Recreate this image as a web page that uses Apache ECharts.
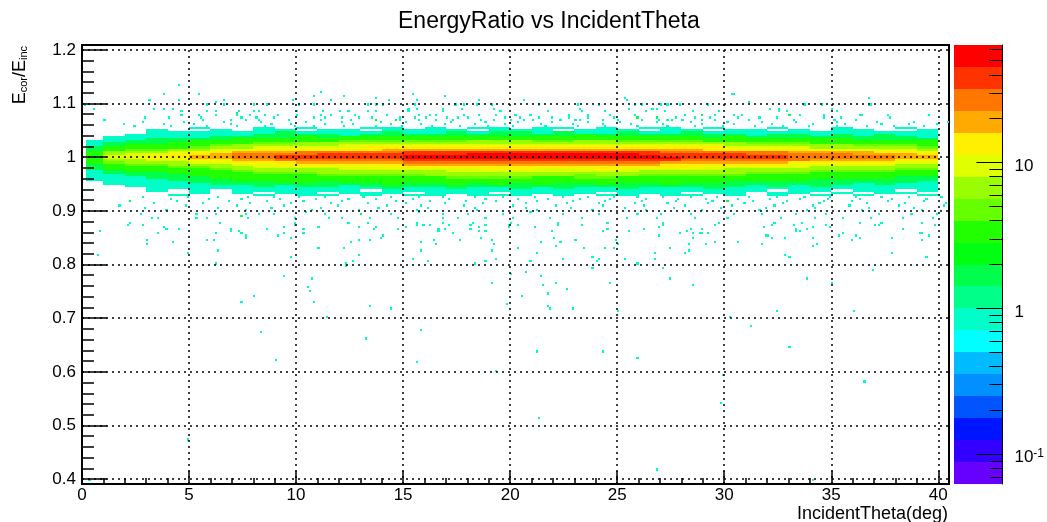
<!DOCTYPE html>
<html><head><meta charset="utf-8">
<style>html,body{margin:0;padding:0;background:#fff}#c{width:1047px;height:522px}</style>
<script src="https://cdn.jsdelivr.net/npm/echarts@6/dist/echarts.min.js"></script>
</head><body><div id="c"></div>
<script>
// Tick values
const xMajorTicks=[0,5,10,15,20,25,30,35,40];
const xMinorTicks=[1,2,3,4,6,7,8,9,11,12,13,14,16,17,18,19,21,22,23,24,26,27,28,29,31,32,33,34,36,37,38,39];
const yMajorTicks=[0.4,0.5,0.6,0.7,0.8,0.9,1,1.1,1.2];
const yMinorTicks=[0.42,0.44,0.46,0.48,0.52,0.54,0.56,0.58,0.62,0.64,0.66,0.68,0.72,0.74,0.76,0.78,0.82,0.84,0.86,0.88,0.92,0.94,0.96,0.98,1.02,1.04,1.06,1.08,1.12,1.14,1.16,1.18];
const zMajorTicks=[0.1,1,10];
const zMinorTicks=[0.07,0.08,0.09,0.2,0.3,0.4,0.5,0.6,0.7,0.8,0.9,2,3,4,5,6,7,8,9,20,30,40,50,60];
const palette=['#6600ff','#3300ff','#0015ff','#0055ff','#0090ff','#00bbff','#00ffff','#00ffc8','#00ff88','#00ff4c','#00ff11','#22ff00','#66ff00','#99ff00','#e0ff00','#fff000','#ffaa00','#ff7700','#ff3300','#ff0000'];
const zMin=0.0625, zMax=64;

// Dense core of the band: counts estimated by eye per colour, one column per degree of theta (0..39),
// one row per ratio bin, from 1.052 downwards in steps of 0.004. This is coarser than the source binning.
const coreTopRatio=1.052;
const coreRows=[
[0,0,0,0,0,1,0,0,1,0,1,0,0,1,1,0,1,0,1,1,0,1,1,0,1,0,1,1,0,1,0,0,1,0,0,1,0,0,1,0],
[0,0,0,1,0,0,1,0,1,1,0,1,1,0,1,1,1,1,0,1,1,1,0,1,1,1,0,1,1,0,1,1,0,1,0,1,1,0,0,1],
[0,0,0,1,1,1,1,1,1,2,1,1,1,1,2,1,1,2,1,2,2,1,2,1,1,2,1,1,2,1,1,1,1,1,1,1,1,1,1,1],
[0,0,1,1,1,1,1,1,2,2,2,2,1,2,2,2,2,2,2,2,2,2,2,3,2,2,2,2,2,2,2,1,2,2,1,2,1,2,1,1],
[0,1,1,1,1,1,2,2,2,2,3,2,3,3,3,3,3,3,3,3,3,3,3,3,3,3,3,3,3,2,3,2,2,2,2,2,2,2,2,1],
[0,1,1,2,2,2,2,3,3,3,3,3,3,4,4,4,4,4,4,4,4,4,4,4,4,4,4,4,3,3,3,3,3,3,3,3,2,2,2,2],
[1,1,2,2,2,3,3,3,4,4,4,4,5,5,5,5,5,5,6,6,6,5,5,6,6,5,5,5,5,4,4,4,4,4,3,3,3,3,3,3],
[1,2,2,2,3,3,4,4,5,5,6,6,6,6,7,7,7,7,8,8,8,8,7,7,8,7,7,7,6,6,6,5,5,5,4,4,4,4,3,3],
[1,2,3,3,3,4,5,6,6,7,8,8,9,9,9,10,10,11,11,11,11,11,10,11,11,10,10,10,9,9,8,8,7,6,6,6,5,5,5,4],
[2,3,3,4,4,5,7,8,9,9,10,11,11,12,13,14,14,14,15,15,15,15,14,14,15,14,14,13,12,12,11,10,10,9,8,8,8,7,6,5],
[2,4,5,5,6,7,9,11,12,13,14,15,16,16,17,19,19,19,21,21,22,22,21,20,22,20,19,18,17,16,15,14,14,13,12,11,11,10,9,8],
[3,6,7,8,10,12,15,18,20,22,25,27,28,29,31,34,34,35,37,40,40,39,38,38,40,37,34,32,30,30,27,26,24,22,20,18,18,16,14,13],
[4,8,9,11,12,15,19,23,26,29,32,34,35,36,39,44,44,45,47,50,50,49,47,47,49,46,44,41,38,37,34,32,30,28,25,23,22,20,18,16],
[4,9,11,13,14,17,21,27,30,33,35,38,38,40,43,47,48,48,52,55,55,54,52,52,54,51,48,45,42,41,38,36,34,31,28,26,25,23,20,18],
[4,10,12,14,15,18,22,27,30,34,36,38,39,41,43,48,48,49,52,56,56,55,52,52,55,52,48,46,43,42,40,37,35,32,29,26,26,24,21,19],
[3,7,8,10,11,13,16,19,21,24,26,27,28,29,31,34,35,35,37,39,40,39,37,37,39,37,35,33,30,30,28,26,24,23,21,19,18,17,15,13],
[3,5,6,7,8,9,11,14,15,16,18,19,19,20,21,23,24,24,25,27,27,26,25,25,27,25,24,22,21,21,19,18,17,15,14,13,13,12,10,9],
[2,4,5,5,6,7,8,10,11,12,13,13,14,14,15,17,17,17,18,19,19,19,18,18,19,18,17,16,15,15,14,13,12,11,10,9,9,9,8,7],
[2,3,4,4,5,5,6,8,9,9,10,11,11,11,12,13,13,13,14,15,15,15,14,14,15,14,13,12,12,11,11,10,9,9,8,8,7,7,6,6],
[2,3,3,3,4,4,5,6,7,8,8,8,9,9,10,10,10,11,11,12,12,11,11,11,12,11,10,10,9,9,8,8,8,7,7,6,6,6,5,5],
[1,2,3,3,3,4,4,5,6,6,7,7,7,7,8,8,8,9,9,9,9,9,9,9,9,9,8,8,7,7,7,7,6,6,5,5,5,5,4,4],
[1,2,2,2,3,3,4,4,5,5,5,6,6,6,6,7,7,7,7,7,7,7,7,7,7,7,7,6,6,6,6,5,5,5,4,4,4,4,4,3],
[1,1,2,2,2,3,3,4,4,4,4,5,5,5,5,5,6,6,6,6,6,6,6,5,6,6,5,5,5,5,5,4,4,4,4,3,3,3,3,3],
[1,1,1,2,2,2,3,3,3,3,4,4,4,4,4,4,4,5,5,5,5,4,4,5,5,4,4,4,4,4,4,3,3,3,3,3,3,3,2,2],
[1,1,1,1,2,2,2,3,3,3,3,3,3,3,3,4,3,4,4,4,4,4,4,4,4,4,3,3,3,3,3,3,3,3,2,2,2,2,2,2],
[0,1,1,1,1,2,2,2,2,3,3,2,3,3,3,3,3,3,3,3,3,3,3,3,3,3,3,3,3,3,2,2,2,2,2,2,2,2,2,1],
[0,1,1,1,1,1,2,2,2,2,2,2,2,2,3,2,2,3,2,3,2,3,2,2,3,2,2,3,2,2,2,2,2,2,2,2,1,2,1,1],
[0,0,1,1,1,1,1,1,2,1,2,2,1,2,2,2,2,2,2,2,2,2,2,2,2,2,2,2,2,2,2,1,2,1,2,1,1,1,1,1],
[0,0,0,1,1,1,1,1,1,1,1,1,1,1,2,1,1,2,1,1,2,1,2,1,1,2,1,1,1,2,1,1,1,1,1,1,1,1,1,1],
[0,0,0,1,0,1,0,1,1,1,1,1,1,0,1,1,1,1,1,1,1,1,1,1,1,1,1,1,1,1,1,1,0,1,1,0,1,1,0,1],
[0,0,0,0,0,1,0,1,0,1,1,0,1,1,1,0,1,1,1,0,1,1,1,1,0,1,1,1,0,1,1,0,1,1,0,1,0,1,1,0],
[0,0,0,0,1,0,0,0,1,0,1,1,0,1,0,1,1,0,1,1,1,0,1,0,1,1,0,1,1,0,1,0,1,0,1,0,1,0,0,1]
];

// Fringe of single-count cells. Individual positions here cannot be read exactly:
// they are hand estimates of the density seen in each ratio bin (theta in tenths of a degree).
const fringe1064=[28,47,66,83,104,121,139,151,172,188,203,219,236,251,268,284,301,317,333,352,371,388,404,418,437,452,469,488,511,534,561];
const fringe1060=[19,38,52,69,88,97,113,126,144,158,169,183,197,214,229,243,256,271,289,304,322,341,356,373,386,399,414,431,446,463,478,495,507,528,547,566,583];
const fringe1056=[24,41,58,72,85,99,108,122,137,149,163,176,189,201,216,231,244,259,273,286,299,314,327,339,352,366,379,393,408,421,434,449,461,476,489,503,518,533,551,569,588];
const fringe0924=[28,49,63,77,89,101,113,131,144,157,168,183,196,211,224,236,248,259,271,284,296,311,324,337,349,361,373,386,401,415,428,441,453,466,478,493,507,522,536,551,568,586];
const fringe0920=[41,59,74,92,109,124,137,154,171,188,203,217,232,246,263,278,291,306,321,335,348,363,378,394,407,423,438,451,464,483,498,513,529,544,561,579];
const fringe0916=[22,44,68,86,103,121,146,162,179,193,212,229,244,261,277,294,313,329,346,359,376,393,412,427,442,458,475,492,509,527,546,571,593];
const fringe0912=[33,56,78,97,116,133,151,169,187,207,226,241,258,273,292,309,327,344,366,384,403,419,437,456,473,489,506,524,543,564,584];
const fringe0908=[17,48,72,94,119,142,158,178,201,221,243,262,281,303,323,341,358,381,402,418,439,461,482,501,523,546,572,597];
const fringe0904=[29,63,88,111,138,161,183,207,228,253,276,298,319,342,367,388,411,434,452,478,497,521,548,577];
const fringe0900=[39,76,107,129,156,184,212,238,263,289,316,338,364,392,421,448,473,502,531,556,583];

// Cells in the sparse upper tail: [theta, ratio]
const upperTail=[[4.57,1.134],[3.8,1.119],[5.45,1.119],[11.19,1.12],[10.83,1.113],[15.45,1.119],[12.27,1.113],[16.95,1.113],[13.75,1.109],[30.36,1.119],[30.46,1.119],[36.77,1.109],[25.32,1.109],[25.45,1.105],[3.13,1.105],[4.57,1.105],[6.67,1.105],[9.84,1.105],[11.63,1.105],[14.34,1.104],[15.63,1.104],[18.5,1.105],[20.6,1.104],[31.14,1.102],[6.2,1.102],
[0.13,1.096],[5.89,1.096],[6.64,1.096],[8.01,1.096],[8.66,1.096],[10.13,1.096],[10.8,1.096],[13.33,1.096],[13.7,1.096],[14.08,1.096],[15.5,1.096],[17.44,1.096],[17.83,1.096],[18.4,1.096],[19.17,1.096],[21.32,1.096],[23.13,1.096],[24.19,1.096],[25.89,1.096],[26.1,1.096],[27,1.096],[27.39,1.096],[27.91,1.096],[29.2,1.096],[33.72,1.096],[34.5,1.096],[36.82,1.096],[36.7,1.096],
[0.57,1.091],[3.36,1.091],[3.8,1.091],[4.26,1.091],[15.25,1.091],[15.6,1.091],[16.8,1.091],[17.78,1.091],[19.25,1.091],[23.26,1.091],[25.53,1.091],[26.61,1.091],[26.8,1.091],[32.17,1.091],[32.5,1.091],[35.01,1.091],
[4.65,1.085],[5.89,1.085],[6.28,1.085],[7.36,1.085],[8.01,1.085],[8.27,1.085],[10.08,1.085],[11.24,1.085],[12.02,1.085],[12.4,1.085],[13.31,1.085],[13.7,1.085],[15.25,1.085],[16.8,1.085],[19.5,1.085],[21.71,1.085],[23.39,1.085],[24.42,1.085],[26.36,1.085],[27.2,1.085],[28.55,1.085],[29.7,1.085],[32.5,1.085],[32.95,1.085],[35.27,1.085],
[4.65,1.079],[5.43,1.079],[6.2,1.079],[7.24,1.079],[7.88,1.079],[8.53,1.079],[9.17,1.079],[10.03,1.079],[11.11,1.079],[11.63,1.079],[12.79,1.079],[14.2,1.079],[15.76,1.079],[16.28,1.079],[16.54,1.079],[17.83,1.079],[18.53,1.079],[19.38,1.079],[20.28,1.079],[20.93,1.079],[22.74,1.079],[23.64,1.079],[24.68,1.079],[25.84,1.079],[28.17,1.079],[29.59,1.079],[30.49,1.079],[30.88,1.079],[33.59,1.079],[34.63,1.079],[36.3,1.079],[36.43,1.079],[37.6,1.079],[39.53,1.079],
[2.97,1.073],[4,1.073],[5.56,1.073],[7.49,1.073],[8.14,1.073],[8.91,1.073],[10.85,1.073],[11.37,1.073],[12.14,1.073],[12.92,1.073],[13.57,1.073],[14.86,1.073],[15.5,1.073],[16.02,1.073],[17.05,1.073],[17.57,1.073],[18.09,1.073],[19.77,1.073],[20.41,1.073],[21.32,1.073],[21.96,1.073],[22.74,1.073],[23.64,1.073],[24.81,1.073],[27.78,1.073],[28.68,1.073],[29.33,1.073],[30.62,1.073],[31.65,1.073],[32.43,1.073],[34.63,1.073],[35.4,1.073],[37.73,1.073],
[1.03,1.068],[5.68,1.068],[6.98,1.068],[7.62,1.068],[8.27,1.068],[9.69,1.068],[11.11,1.068],[12.53,1.068],[14.86,1.068],[15.76,1.068],[16.54,1.068],[17.31,1.068],[18.6,1.068],[19.25,1.068],[20.03,1.068],[20.67,1.068],[21.06,1.068],[22.35,1.068],[23,1.068],[23.26,1.068],[24.3,1.068],[25.01,1.068],[26.1,1.068],[26.93,1.068],[27.39,1.068],[28.04,1.068],[28.94,1.068],[29.59,1.068],[31.14,1.068],[33.2,1.068],[35.14,1.068],[36.18,1.068]];

// Cells just under 0.9
const midTail=[[2.71,0.892],[5.3,0.892],[6.2,0.892],[7.62,0.892],[8.27,0.892],[8.91,0.892],[10.47,0.896],[11.37,0.892],[14.47,0.892],[15.76,0.896],[16.8,0.892],[18.09,0.892],[19.64,0.892],[20.93,0.896],[22.48,0.892],[24.16,0.892],[25.97,0.892],[27,0.892],[28.42,0.892],[30.49,0.892],[31.78,0.892],[33.33,0.892],[34.75,0.892],[37.21,0.892],[38.76,0.892],[39.92,0.892],
[3.23,0.885],[3.54,0.885],[5.3,0.885],[5.81,0.885],[7.75,0.885],[9.95,0.885],[11.5,0.885],[12.14,0.885],[13.44,0.885],[14.73,0.885],[16.8,0.885],[17.57,0.885],[18.86,0.885],[20.16,0.885],[21.83,0.885],[23.39,0.885],[25.45,0.885],[26.87,0.885],[28.68,0.885],[30.1,0.885],[32.69,0.885],[34.24,0.885],[35.53,0.885],[36.82,0.885],[38.37,0.885],[39.79,0.885],
[2.2,0.876],[6.46,0.879],[9.95,0.876],[12.4,0.879],[13.31,0.876],[15.63,0.876],[16.8,0.879],[18.22,0.876],[20.03,0.876],[22.22,0.876],[24.55,0.879],[27.13,0.876],[29.72,0.879],[32.3,0.876],[33.6,0.879],[36.3,0.879],[37.34,0.879],[39.28,0.879]];

// Cells in the lower tail
const lowerTail=[[0.88,0.862],[2.17,0.874],[2.87,0.874],[3.81,0.87],[3.95,0.866],[4.56,0.866],[3.53,0.858],[3.02,0.847],[3.02,0.838],[4.22,0.842],[0.7,0.819],[4.98,0.823],[5.81,0.847],[6.14,0.847],[6.23,0.858],[6.37,0.827],[6.23,0.802],[6.98,0.866],[6.98,0.862],[7.3,0.862],[7.49,0.858],[7.63,0.855],[7.63,0.851],[8.65,0.866],[9.4,0.87],[9.4,0.858],[9.12,0.855],[9.72,0.851],[9.91,0.874],[9.72,0.814],[10.33,0.866],[10.37,0.858],[11.07,0.87],[11.07,0.83],[12.23,0.83],[12.56,0.842],[12.98,0.87],[12.98,0.847],[13.4,0.847],[12.98,0.819],[12.65,0.806],[12.37,0.802],[12.37,0.799],[9.49,0.778],[10.74,0.775],[10.56,0.758],[10.65,0.75],[10.88,0.73],[8.05,0.743],[7.49,0.73],[13.4,0.722],[11.49,0.702],[8.37,0.674],[13.21,0.663],[9.07,0.622],[4.98,0.475],[0.37,0.398],
[13.64,0.866],[13.74,0.87],[14.77,0.866],[15.19,0.87],[13.93,0.851],[14.07,0.855],[15.65,0.874],[15.93,0.874],[16.26,0.874],[16.68,0.866],[16.68,0.862],[16.92,0.866],[17.1,0.874],[17.34,0.858],[18.13,0.874],[18.13,0.866],[18.55,0.87],[18.55,0.862],[18.88,0.874],[18.88,0.862],[18.6,0.851],[19.11,0.847],[19.21,0.838],[19.11,0.827],[17.62,0.847],[16.45,0.847],[16.59,0.838],[15.84,0.842],[15.84,0.827],[15.42,0.81],[16.17,0.806],[18.36,0.802],[18.88,0.806],[19.3,0.81],[19.95,0.874],[19.95,0.87],[20.37,0.874],[21.12,0.87],[21.96,0.862],[22.24,0.874],[23.32,0.874],[22.06,0.851],[21.4,0.842],[22.38,0.842],[22.15,0.834],[23.04,0.847],[23.41,0.83],[20.37,0.83],[21.21,0.823],[20.98,0.806],[22.48,0.81],[23.88,0.814],[24.16,0.81],[24.07,0.806],[23.88,0.795],[24.3,0.862],[24.58,0.866],[24.49,0.83],[24.81,0.83],[24.91,0.847],[25.09,0.838],[25.51,0.862],[26.26,0.866],[26.92,0.855],[26.73,0.823],[26.73,0.81],[25.33,0.81],[25.98,0.802],
[20.05,0.782],[20.79,0.786],[21.4,0.778],[21.54,0.761],[22.19,0.767],[22.62,0.754],[21.73,0.747],[20.56,0.743],[19.11,0.767],[24.67,0.767],[21.73,0.722],[21.87,0.719],[22.9,0.719],[19.86,0.726],[14.44,0.719],[25,0.715],[15.84,0.678],[15.65,0.618],[19.35,0.603],[21.21,0.639],[24.39,0.639],[25.98,0.625],[21.31,0.514],[26.82,0.419],
[26.95,0.87],[27.14,0.874],[27.94,0.858],[28.27,0.862],[28.41,0.866],[28.59,0.858],[28.59,0.851],[28.83,0.858],[28.92,0.858],[28.92,0.866],[29.25,0.858],[29.58,0.874],[27.42,0.83],[28.17,0.823],[28.36,0.827],[28.36,0.838],[29.11,0.838],[29.58,0.842],[30.61,0.842],[31.78,0.838],[31.88,0.87],[31.9,0.855],[32,0.855],[32.2,0.851],[32.2,0.874],[32.86,0.851],[33.23,0.874],[33.38,0.866],[33.38,0.862],[33.56,0.862],[33.89,0.866],[34.13,0.87],[34.13,0.851],[34.13,0.834],[34.31,0.838],[32.81,0.819],[33.05,0.814],[34.73,0.874],[34.92,0.87],[35.39,0.855],[35.58,0.858],[35.91,0.847],[36.19,0.855],[36.33,0.851],[37.08,0.874],[37.27,0.874],[38.34,0.866],[37.83,0.851],[37.83,0.823],[39.14,0.858],[39.24,0.858],[39.28,0.847],[39.52,0.855],[39.47,0.814],[39.8,0.874],
[27.14,0.795],[27.42,0.775],[28.5,0.761],[33.8,0.775],[36.94,0.789],[35.06,0.767],[32.48,0.715],[36,0.715],[30.28,0.702],[31.27,0.687],[33.05,0.646],[29.95,0.594],[36.56,0.583],[29.86,0.542],[34.13,0.398]];

// Fringe cells holding two counts (drawn green in the picture)
const greenCells=[[7.2,1.083],[13.7,1.068],[14.6,1.068],[33.07,1.078],[25.9,1.075],[26.87,1.073],[27.57,1.07],[28.94,1.078],[13.05,0.893],[7.49,0.89],[30.1,0.917],[2.2,0.917]];

const thetaBin=0.1, ratioBin=0.004;
const cells=[];
coreRows.forEach((row,i)=>{
  const r=coreTopRatio-i*ratioBin;
  row.forEach((v,j)=>{ if(v>0) cells.push([j===0?0.2:j,j+1,r,r+ratioBin,v]); });
});
function addFringe(list,r){ list.forEach(t=>cells.push([t/10,t/10+thetaBin,r,r+ratioBin,1])); }
addFringe(fringe1064,1.064);addFringe(fringe1060,1.060);addFringe(fringe1056,1.056);
addFringe(fringe0924,0.924);addFringe(fringe0920,0.920);addFringe(fringe0916,0.916);addFringe(fringe0912,0.912);addFringe(fringe0908,0.908);addFringe(fringe0904,0.904);addFringe(fringe0900,0.900);
function addPairs(list,v){ list.forEach(p=>{
  const t=Math.floor(p[0]*10+1e-6)/10, r=Math.floor(p[1]/ratioBin+1e-6)*ratioBin;
  cells.push([t,t+thetaBin,r,r+ratioBin,v]);
});}
addPairs(upperTail,1);addPairs(midTail,1);addPairs(lowerTail,1);addPairs(greenCells,2);

function colorOf(v){
  const x=Math.log(v/zMin)/Math.log(zMax/zMin)*palette.length;
  return palette[Math.max(0,Math.min(palette.length-1,Math.ceil(x-1e-9)-1))];
}
const barData=palette.map((c,i)=>[zMin*Math.pow(zMax/zMin,i/palette.length),zMin*Math.pow(zMax/zMin,(i+1)/palette.length),i]);

const FONT='"Liberation Sans",Arial,sans-serif';
const chart=echarts.init(document.getElementById('c'),null,{renderer:'canvas'});
const dotted={color:'#000',width:1.5,type:[2,4]};
chart.setOption({
  animation:false,
  backgroundColor:'#fff',
  textStyle:{fontFamily:FONT},
  title:{text:'EnergyRatio vs IncidentTheta',left:393,top:5,textStyle:{fontFamily:FONT,fontWeight:'normal',fontSize:23,color:'#000'}},
  grid:[
    {left:82,top:45,width:867,height:439,show:true,borderColor:'#000',borderWidth:2,backgroundColor:'#fff'},
    {left:954,top:45,width:49,height:439,show:false}
  ],
  xAxis:[
    {type:'value',gridIndex:0,min:0,max:40.5,position:'bottom',z:20,splitLine:{show:false},
     axisLine:{show:true,onZero:false,lineStyle:{color:'#000',width:2}},
     axisTick:{show:true,inside:true,length:13,customValues:xMajorTicks,lineStyle:{color:'#000',width:1.5}},
     axisLabel:{show:true,customValues:xMajorTicks,fontSize:17,color:'#000',margin:3,fontFamily:FONT,formatter:v=>String(v)}},
    {type:'value',gridIndex:0,min:0,max:40.5,position:'bottom',z:20,splitLine:{show:false},
     axisLine:{show:false,onZero:false},axisLabel:{show:false},
     axisTick:{show:true,inside:true,length:6,customValues:xMinorTicks,lineStyle:{color:'#000',width:1.5}}},
    {type:'value',gridIndex:1,min:0,max:1,show:false}
  ],
  yAxis:[
    {type:'value',gridIndex:0,min:0.391,max:1.209,position:'left',z:20,splitLine:{show:false},
     axisLine:{show:true,onZero:false,lineStyle:{color:'#000',width:2}},
     axisTick:{show:true,inside:true,length:25,customValues:yMajorTicks,lineStyle:{color:'#000',width:1.5}},
     axisLabel:{show:true,customValues:yMajorTicks,fontSize:17,color:'#000',margin:6,fontFamily:FONT,formatter:v=>String(v)}},
    {type:'value',gridIndex:0,min:0.391,max:1.209,position:'left',z:20,splitLine:{show:false},
     axisLine:{show:false,onZero:false},axisLabel:{show:false},
     axisTick:{show:true,inside:true,length:12,customValues:yMinorTicks,lineStyle:{color:'#000',width:1.5}}},
    {type:'log',gridIndex:1,min:zMin,max:zMax,position:'right',z:20,splitLine:{show:false},
     axisLine:{show:true,onZero:false,lineStyle:{color:'#000',width:1}},
     axisTick:{show:true,inside:true,length:26,customValues:zMajorTicks,lineStyle:{color:'#000',width:1}},
     axisLabel:{show:true,customValues:zMajorTicks,fontSize:17,color:'#000',margin:12,padding:[7,0,0,0],fontFamily:FONT,
       formatter:v=>v<0.5?'10{s|-1}':String(Math.round(v)),rich:{s:{fontSize:12,verticalAlign:'top',padding:[0,0,8,0],color:'#000',fontFamily:FONT}}}},
    {type:'log',gridIndex:1,min:zMin,max:zMax,position:'right',z:20,splitLine:{show:false},
     axisLine:{show:false,onZero:false},axisLabel:{show:false},
     axisTick:{show:true,inside:true,length:13,customValues:zMinorTicks,lineStyle:{color:'#000',width:1}}}
  ],
  series:[
    {type:'custom',xAxisIndex:0,yAxisIndex:0,z:2,clip:true,progressive:0,silent:true,
     data:cells,encode:{x:[0,1],y:[2,3]},
     renderItem:(p,api)=>{
       const a=api.coord([api.value(0),api.value(3)]), b=api.coord([api.value(1),api.value(2)]);
       const x=Math.round(a[0]), y=Math.round(a[1]);
       return {type:'rect',shape:{x:x,y:y,width:Math.max(1,Math.round(b[0])-x),height:Math.max(1,Math.round(b[1])-y)},style:{fill:colorOf(api.value(4))}};
     }},
    {type:'line',xAxisIndex:0,yAxisIndex:0,data:[],z:10,silent:true,
     markLine:{silent:true,symbol:'none',animation:false,label:{show:false},lineStyle:dotted,z:10,
       data:yMajorTicks.map(v=>({yAxis:v})).concat(xMajorTicks.slice(1).map(v=>({xAxis:v})))}},
    {type:'custom',xAxisIndex:2,yAxisIndex:2,z:2,silent:true,progressive:0,
     data:barData,encode:{y:[0,1]},
     renderItem:(p,api)=>{
       const a=api.coord([0,api.value(1)]), b=api.coord([1,api.value(0)]);
       return {type:'rect',shape:{x:a[0],y:Math.round(a[1]),width:b[0]-a[0],height:Math.round(b[1])-Math.round(a[1])},style:{fill:palette[api.value(2)]}};
     }}
  ],
  graphic:[
    {type:'text',x:29,y:46,rotation:Math.PI/2,silent:true,
     style:{text:'E{s|cor}/E{s|inc}',fill:'#000',font:'18px '+FONT,align:'right',verticalAlign:'bottom',
       rich:{s:{fontSize:11,verticalAlign:'bottom',fill:'#000',fontFamily:FONT}}}},
    {type:'text',right:99,top:505,silent:true,
     style:{text:'IncidentTheta(deg)',fill:'#000',font:'18px '+FONT}}
  ]
});
</script></body></html>
